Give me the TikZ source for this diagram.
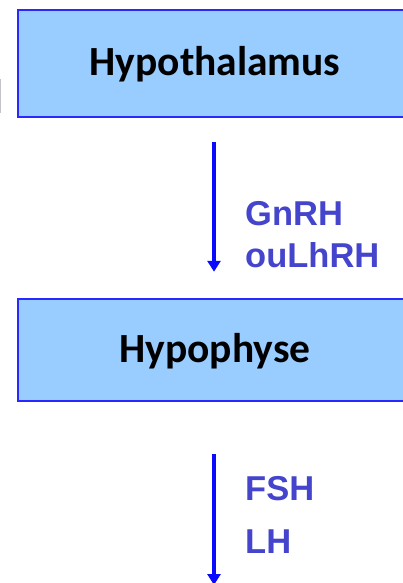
\documentclass[tikz,border=0pt]{standalone}
\usepackage{fontspec}
\setmainfont{Carlito}
\newfontfamily\labfont{Liberation Sans}
\usetikzlibrary{arrows.meta}
\definecolor{boxfill}{HTML}{99CCFF}
\definecolor{boxline}{RGB}{40,40,255}
\definecolor{labcol}{RGB}{68,68,204}
\definecolor{arrcol}{RGB}{10,10,255}
\definecolor{markgrey}{RGB}{195,195,200}
\tikzset{
  organbox/.style={draw=boxline, line width=2.5pt, fill=boxfill,
    minimum width=394pt, inner sep=0pt, text height=25pt, text depth=0pt,
    font=\fontsize{41.5}{45}\selectfont\bfseries, text=black},
  hormone/.style={anchor=base west, inner sep=0pt, text=labcol,
    font=\labfont\fontsize{34.5}{38}\selectfont\bfseries},
  flow/.style={draw=arrcol, line width=3.2pt, -{Triangle[width=13pt,length=11pt]}}
}
\begin{document}
\begin{tikzpicture}[x=1pt,y=-1pt]
\useasboundingbox (0,0) rectangle (402,583);
\draw[markgrey, line width=1.5pt] (0.5,79) -- (0.5,113);
\node[organbox, minimum height=107pt] (hypo) at (215,63.5) {Hypothalamus};
\node[organbox, minimum height=102pt] (pit) at (215,350) {Hypophyse};
\coordinate (out) at (215,585);
\draw[flow, shorten <=24pt, shorten >=26pt] (hypo.south -| 214,0) -- (pit.north -| 214,0);
\draw[flow, shorten <=52pt] (pit.south -| 214,0) -- (out -| 214,0);
\node[hormone] (gnrh) at (245,225) {GnRH};
\node[hormone] (lhrh) at (245,267) {ouLhRH};
\node[hormone] (fsh) at (245,500) {FSH};
\node[hormone] (lh) at (245,553) {LH};
\end{tikzpicture}
\end{document}
